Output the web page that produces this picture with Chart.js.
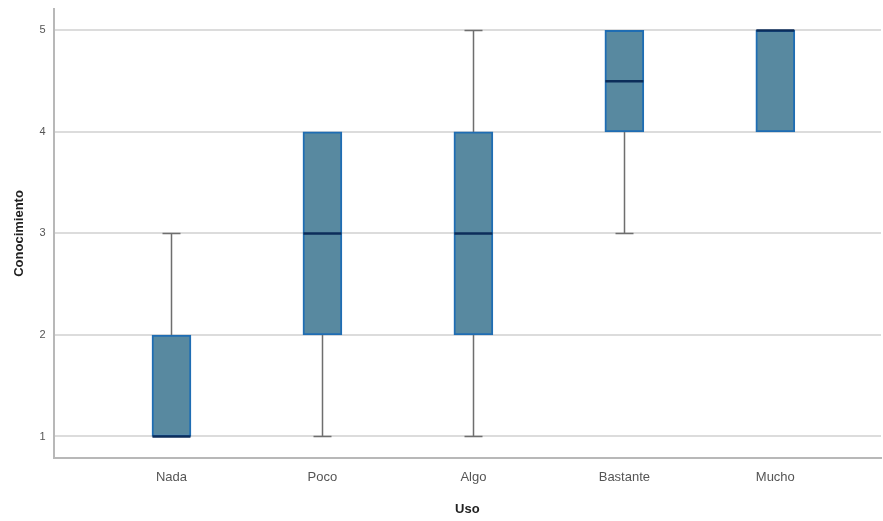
<!DOCTYPE html>
<html>
<head>
<meta charset="utf-8">
<script src="https://cdn.jsdelivr.net/npm/chart.js@4/dist/chart.umd.min.js"></script>
<style>
  html, body { margin: 0; padding: 0; background: #fff; }
  #wrap { width: 883px; height: 521px; }
</style>
</head>
<body>
<div id="wrap"><canvas id="chart"></canvas></div>
<script>
// datos del diagrama de caja (Conocimiento por Uso)
const categorias = ["Nada", "Poco", "Algo", "Bastante", "Mucho"];
const minimos = [1, 1, 1, 3, 4];
const cuartil1 = [1, 2, 2, 4, 4];
const medianas = [1, 3, 3, 4.5, 5];
const cuartil3 = [2, 4, 4, 5, 5];
const maximos = [3, 4, 5, 5, 5];
const ticksY = [1, 2, 3, 4, 5];

const cajas = categorias.map((c, i) => ({ x: i, y: [cuartil1[i], cuartil3[i]] }));

// bigotes y medianas dibujados con las escalas del grafico
const bigotesPlugin = {
  id: "bigotes",
  beforeDatasetsDraw(chart) {
    const { ctx, scales: { x, y } } = chart;
    ctx.save();
    ctx.strokeStyle = "#6e6e6e";
    ctx.lineWidth = 1.5;
    categorias.forEach((c, i) => {
      const px = Math.round(x.getPixelForValue(i)) + 0.5;
      const half = 9;
      const yMin = y.getPixelForValue(minimos[i]);
      const yMax = y.getPixelForValue(maximos[i]);
      const yQ1 = y.getPixelForValue(cuartil1[i]);
      const yQ3 = y.getPixelForValue(cuartil3[i]);
      ctx.beginPath();
      if (maximos[i] > cuartil3[i]) {
        ctx.moveTo(px, yQ3); ctx.lineTo(px, yMax);
        ctx.moveTo(px - half, yMax); ctx.lineTo(px + half, yMax);
      }
      if (minimos[i] < cuartil1[i]) {
        ctx.moveTo(px, yQ1); ctx.lineTo(px, yMin);
        ctx.moveTo(px - half, yMin); ctx.lineTo(px + half, yMin);
      }
      ctx.stroke();
    });
    ctx.restore();
  },
  afterDatasetsDraw(chart) {
    const { ctx, scales: { x, y } } = chart;
    ctx.save();
    ctx.strokeStyle = "#0c2d5a";
    ctx.lineWidth = 2.5;
    categorias.forEach((c, i) => {
      const px = x.getPixelForValue(i);
      const py = y.getPixelForValue(medianas[i]);
      ctx.beginPath();
      ctx.moveTo(px - 19, py); ctx.lineTo(px + 19, py);
      ctx.stroke();
    });
    ctx.restore();
  }
};

new Chart(document.getElementById("chart"), {
  type: "bar",
  data: {
    datasets: [{
      data: cajas,
      backgroundColor: "#5889a0",
      borderColor: "#1f6db3",
      borderWidth: 2,
      borderSkipped: false,
      barThickness: 39,
    }],
  },
  plugins: [bigotesPlugin],
  options: {
    responsive: true,
    maintainAspectRatio: false,
    animation: false,
    layout: { padding: { top: 8, right: 2, bottom: 4, left: 12 } },
    plugins: {
      legend: { display: false },
      tooltip: { enabled: false },
    },
    scales: {
      x: {
        type: "linear",
        offset: false,
        min: -0.78,
        max: 4.7,
        afterBuildTicks: (axis) => { axis.ticks = categorias.map((c, i) => ({ value: i })); },
        grid: { display: false, drawTicks: false },
        border: { color: "#b8b8b8", width: 2 },
        ticks: {
          callback: (v) => categorias[v],
          color: "#555",
          font: { family: "Liberation Sans", size: 13 },
          padding: 12,
          maxRotation: 0,
        },
        title: {
          display: true,
          text: "Uso",
          color: "#222",
          font: { family: "Liberation Sans", size: 13, weight: "bold" },
          padding: { top: 4, bottom: 0 },
        },
      },
      y: {
        min: 0.79,
        max: 5.21,
        afterBuildTicks: (axis) => { axis.ticks = ticksY.map((v) => ({ value: v })); },
        grid: { color: "#dcdcdc", lineWidth: 2, drawTicks: false },
        border: { color: "#b8b8b8", width: 2 },
        ticks: {
          color: "#555",
          font: { family: "Liberation Sans", size: 11, lineHeight: 0.2 },
          padding: 8,
        },
        title: {
          display: true,
          text: "Conocimiento",
          color: "#222",
          font: { family: "Liberation Sans", size: 13, weight: "bold" },
          padding: { top: 0, bottom: 4 },
        },
      },
    },
  },
});
</script>
</body>
</html>
